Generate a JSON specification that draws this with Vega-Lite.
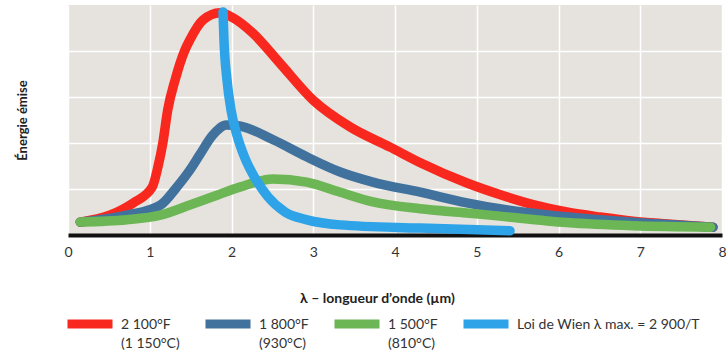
{
  "$schema": "https://vega.github.io/schema/vega-lite/v6.json",
  "width": 654,
  "height": 230,
  "autosize": {"type": "none"},
  "padding": {"left": 68, "top": 5, "right": 4, "bottom": 127},
  "background": "#ffffff",
  "config": {
    "font": "Lato",
    "view": {"fill": "#e6e3de", "stroke": null}
  },
  "data": {
    "values": [
      {"serie": "2 100°F", "o": 1, "x": 0.15, "y": 0.28},
      {"serie": "2 100°F", "o": 2, "x": 0.51, "y": 0.43},
      {"serie": "2 100°F", "o": 3, "x": 0.80, "y": 0.70},
      {"serie": "2 100°F", "o": 4, "x": 1.03, "y": 1.04},
      {"serie": "2 100°F", "o": 5, "x": 1.10, "y": 1.48},
      {"serie": "2 100°F", "o": 6, "x": 1.16, "y": 2.00},
      {"serie": "2 100°F", "o": 7, "x": 1.22, "y": 2.72},
      {"serie": "2 100°F", "o": 8, "x": 1.31, "y": 3.37},
      {"serie": "2 100°F", "o": 9, "x": 1.43, "y": 4.02},
      {"serie": "2 100°F", "o": 10, "x": 1.49, "y": 4.24},
      {"serie": "2 100°F", "o": 11, "x": 1.65, "y": 4.67},
      {"serie": "2 100°F", "o": 12, "x": 1.86, "y": 4.83},
      {"serie": "2 100°F", "o": 13, "x": 2.02, "y": 4.72},
      {"serie": "2 100°F", "o": 14, "x": 2.26, "y": 4.39},
      {"serie": "2 100°F", "o": 15, "x": 2.59, "y": 3.74},
      {"serie": "2 100°F", "o": 16, "x": 3.00, "y": 2.93},
      {"serie": "2 100°F", "o": 17, "x": 3.45, "y": 2.35},
      {"serie": "2 100°F", "o": 18, "x": 3.94, "y": 1.91},
      {"serie": "2 100°F", "o": 19, "x": 4.31, "y": 1.57},
      {"serie": "2 100°F", "o": 20, "x": 4.88, "y": 1.13},
      {"serie": "2 100°F", "o": 21, "x": 5.28, "y": 0.88},
      {"serie": "2 100°F", "o": 22, "x": 5.69, "y": 0.66},
      {"serie": "2 100°F", "o": 23, "x": 6.10, "y": 0.50},
      {"serie": "2 100°F", "o": 24, "x": 6.51, "y": 0.39},
      {"serie": "2 100°F", "o": 25, "x": 6.91, "y": 0.30},
      {"serie": "2 100°F", "o": 26, "x": 7.33, "y": 0.24},
      {"serie": "2 100°F", "o": 27, "x": 7.89, "y": 0.17},
      {"serie": "1 800°F", "o": 1, "x": 0.15, "y": 0.28},
      {"serie": "1 800°F", "o": 2, "x": 0.72, "y": 0.43},
      {"serie": "1 800°F", "o": 3, "x": 1.13, "y": 0.65},
      {"serie": "1 800°F", "o": 4, "x": 1.33, "y": 1.04},
      {"serie": "1 800°F", "o": 5, "x": 1.49, "y": 1.41},
      {"serie": "1 800°F", "o": 6, "x": 1.61, "y": 1.74},
      {"serie": "1 800°F", "o": 7, "x": 1.77, "y": 2.17},
      {"serie": "1 800°F", "o": 8, "x": 1.94, "y": 2.39},
      {"serie": "1 800°F", "o": 9, "x": 2.10, "y": 2.37},
      {"serie": "1 800°F", "o": 10, "x": 2.51, "y": 2.07},
      {"serie": "1 800°F", "o": 11, "x": 2.92, "y": 1.70},
      {"serie": "1 800°F", "o": 12, "x": 3.33, "y": 1.37},
      {"serie": "1 800°F", "o": 13, "x": 3.73, "y": 1.15},
      {"serie": "1 800°F", "o": 14, "x": 4.31, "y": 0.93},
      {"serie": "1 800°F", "o": 15, "x": 4.88, "y": 0.70},
      {"serie": "1 800°F", "o": 16, "x": 5.28, "y": 0.57},
      {"serie": "1 800°F", "o": 17, "x": 5.90, "y": 0.43},
      {"serie": "1 800°F", "o": 18, "x": 6.51, "y": 0.33},
      {"serie": "1 800°F", "o": 19, "x": 7.03, "y": 0.26},
      {"serie": "1 800°F", "o": 20, "x": 7.89, "y": 0.17},
      {"serie": "1 500°F", "o": 1, "x": 0.15, "y": 0.28},
      {"serie": "1 500°F", "o": 2, "x": 0.72, "y": 0.33},
      {"serie": "1 500°F", "o": 3, "x": 1.13, "y": 0.43},
      {"serie": "1 500°F", "o": 4, "x": 1.49, "y": 0.65},
      {"serie": "1 500°F", "o": 5, "x": 1.77, "y": 0.83},
      {"serie": "1 500°F", "o": 6, "x": 2.10, "y": 1.04},
      {"serie": "1 500°F", "o": 7, "x": 2.51, "y": 1.22},
      {"serie": "1 500°F", "o": 8, "x": 2.92, "y": 1.15},
      {"serie": "1 500°F", "o": 9, "x": 3.33, "y": 0.93},
      {"serie": "1 500°F", "o": 10, "x": 3.73, "y": 0.72},
      {"serie": "1 500°F", "o": 11, "x": 4.31, "y": 0.57},
      {"serie": "1 500°F", "o": 12, "x": 4.88, "y": 0.48},
      {"serie": "1 500°F", "o": 13, "x": 5.28, "y": 0.41},
      {"serie": "1 500°F", "o": 14, "x": 6.10, "y": 0.27},
      {"serie": "1 500°F", "o": 15, "x": 6.91, "y": 0.20},
      {"serie": "1 500°F", "o": 16, "x": 7.86, "y": 0.17},
      {"serie": "Loi de Wien λ max. = 2 900/T", "o": 1, "x": 1.896, "y": 4.85},
      {"serie": "Loi de Wien λ max. = 2 900/T", "o": 2, "x": 1.908, "y": 4.24},
      {"serie": "Loi de Wien λ max. = 2 900/T", "o": 3, "x": 1.945, "y": 3.37},
      {"serie": "Loi de Wien λ max. = 2 900/T", "o": 4, "x": 1.994, "y": 2.72},
      {"serie": "Loi de Wien λ max. = 2 900/T", "o": 5, "x": 2.067, "y": 2.17},
      {"serie": "Loi de Wien λ max. = 2 900/T", "o": 6, "x": 2.165, "y": 1.67},
      {"serie": "Loi de Wien λ max. = 2 900/T", "o": 7, "x": 2.287, "y": 1.24},
      {"serie": "Loi de Wien λ max. = 2 900/T", "o": 8, "x": 2.446, "y": 0.83},
      {"serie": "Loi de Wien λ max. = 2 900/T", "o": 9, "x": 2.654, "y": 0.50},
      {"serie": "Loi de Wien λ max. = 2 900/T", "o": 10, "x": 2.924, "y": 0.33},
      {"serie": "Loi de Wien λ max. = 2 900/T", "o": 11, "x": 3.327, "y": 0.22},
      {"serie": "Loi de Wien λ max. = 2 900/T", "o": 12, "x": 4.306, "y": 0.15},
      {"serie": "Loi de Wien λ max. = 2 900/T", "o": 13, "x": 5.407, "y": 0.09}
    ]
  },
  "mark": {"type": "line", "strokeWidth": 9.5, "strokeCap": "round", "strokeJoin": "round", "interpolate": "monotone"},
  "encoding": {
    "x": {
      "field": "x", "type": "quantitative",
      "scale": {"domain": [0, 8], "nice": false},
      "axis": {
        "values": [0, 1, 2, 3, 4, 5, 6, 7, 8],
        "title": "λ – longueur d’onde (µm)",
        "titleFontSize": 14, "titleFontWeight": "bold", "titleColor": "#222",
        "titleX": 309, "titleY": 63, "titleBaseline": "middle", "titleAnchor": null,
        "labelFontSize": 14, "labelColor": "#333", "labelPadding": 10,
        "labelFlush": false,
        "ticks": false,
        "domainColor": "#111", "domainWidth": 4,
        "grid": true, "gridColor": "#ffffff", "gridWidth": 1.5
      }
    },
    "y": {
      "field": "y", "type": "quantitative",
      "scale": {"domain": [0, 5], "nice": false},
      "axis": {
        "values": [1, 2, 3, 4],
        "labels": false, "ticks": false, "domain": false,
        "grid": true, "gridColor": "#ffffff", "gridWidth": 1.5,
        "title": "Énergie émise",
        "titleFontSize": 13, "titleFontWeight": "bold", "titleColor": "#222",
        "titleX": -46, "titleY": 115, "titleAngle": -90,
        "titleAlign": "center", "titleBaseline": "middle"
      }
    },
    "color": {
      "field": "serie", "type": "nominal",
      "scale": {
        "domain": ["2 100°F", "1 800°F", "1 500°F", "Loi de Wien λ max. = 2 900/T"],
        "range": ["#f8281e", "#41729d", "#6cb655", "#2ea3e8"]
      },
      "legend": {
        "title": null,
        "orient": "none",
        "direction": "horizontal",
        "legendX": -5,
        "legendY": 292,
        "symbolType": "stroke",
        "symbolSize": 2025,
        "symbolStrokeWidth": 9,
        "labelFontSize": 14,
        "labelColor": "#333",
        "labelOffset": 4,
        "labelBaseline": "alphabetic",
        "labelLimit": 300,
        "columnPadding": 7,
        "labelExpr": "datum.label == '2 100°F' ? ['\u00a0\u00a02 100°F', '(1 150°C)'] : datum.label == '1 800°F' ? ['1 800°F', '(930°C)'] : datum.label == '1 500°F' ? ['1 500°F', '(810°C)'] : [datum.label, '\u00a0']",
        "encoding": {
          "symbols": {"strokeCap": {"value": "butt"}},
          "labels": {"dy": {"value": 5}, "lineHeight": {"value": 19}}
        }
      }
    },
    "order": {"field": "o", "type": "quantitative"}
  }
}
